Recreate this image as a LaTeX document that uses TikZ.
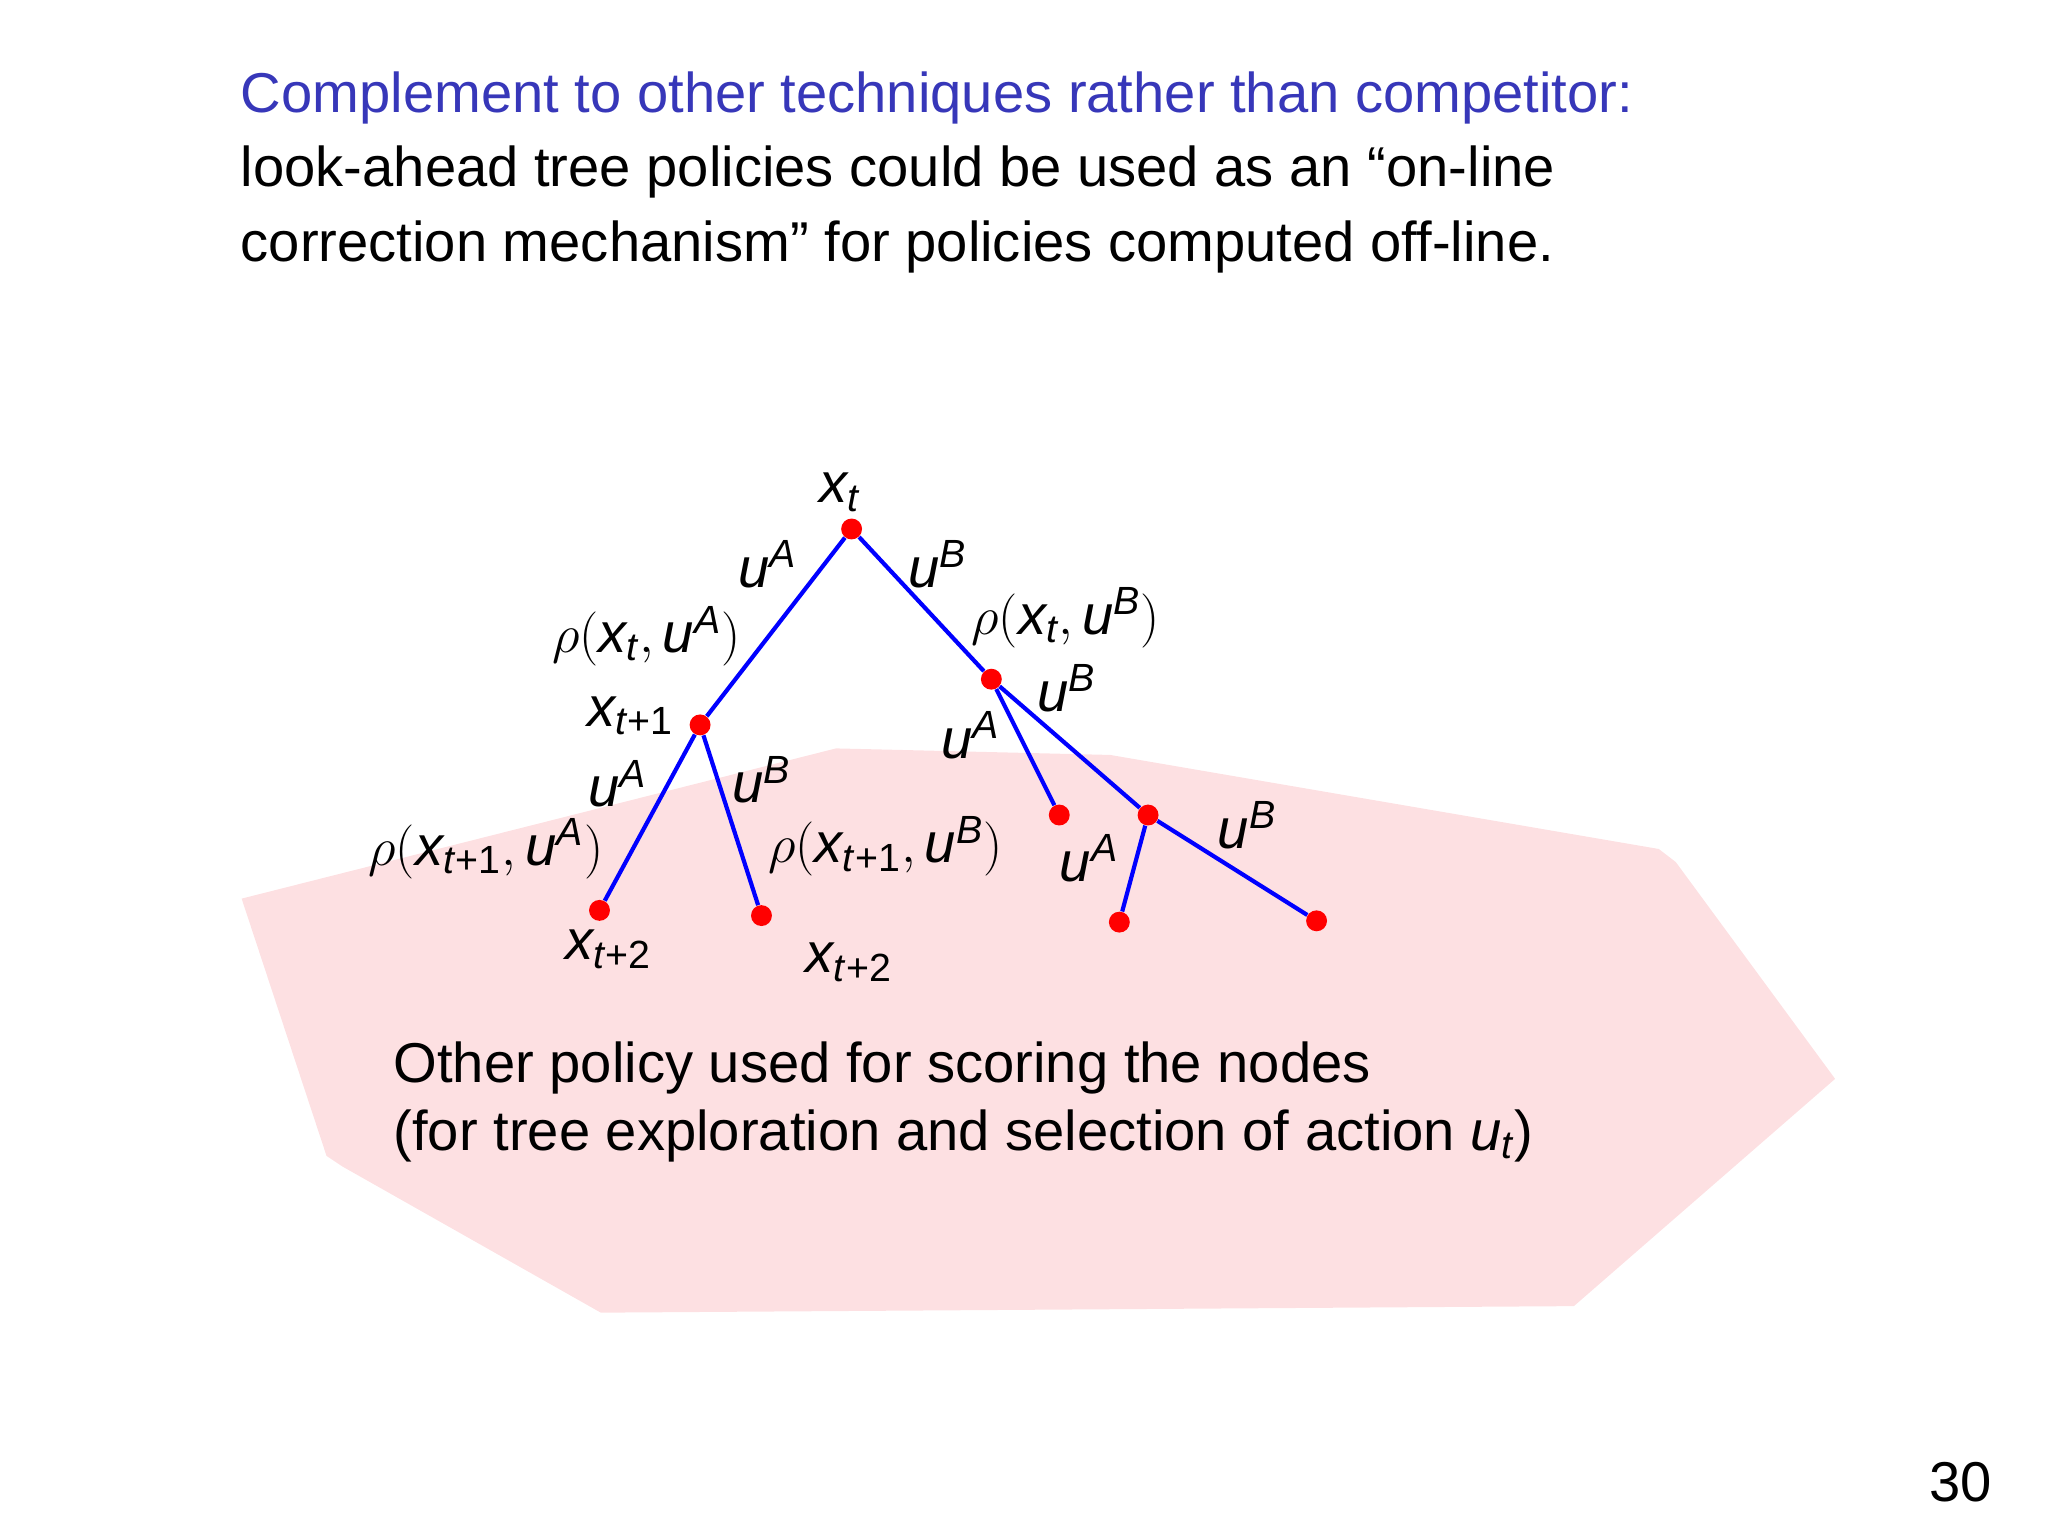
\documentclass[tikz,border=0pt]{standalone}
\usepackage{amsmath}
\usepackage{fontspec}
\setmainfont{Liberation Sans}
\newcommand\V[1]{\textit{#1}}
\definecolor{ttl}{RGB}{55,55,185}
\definecolor{pinkish}{RGB}{253,224,226}
\begin{document}
\begin{tikzpicture}[x=0.5pt,y=-0.5pt,
  dot/.style={circle,fill=red,inner sep=0pt,minimum size=8pt},
  edge/.style={blue,line width=1.6pt},
  lab/.style={font=\fontsize{21.5}{24}\selectfont,inner sep=0pt},
  txt/.style={font=\fontsize{21.5}{28.5}\selectfont,anchor=west,inner sep=0pt}]
\useasboundingbox (0,0) rectangle (1568,1176);
\fill[pinkish] (185,688) -- (250,885) -- (262,893) -- (460,1005) -- (1205,1000) -- (1405,826) -- (1283,660) -- (1270,650) -- (850,578) -- (640,573) -- cycle;
\node[txt,text=ttl] (t1) at (184,75) {Complement to other techniques rather than competitor:};
\node[txt] (t2) at (184,132) {look-ahead tree policies could be used as an “on-line};
\node[txt] (t3) at (184,189) {correction mechanism” for policies computed off-line.};
\node[txt] (b1) at (301,818) {Other policy used for scoring the nodes};
\node[txt] (b2) at (301,870) {(for tree exploration and selection of action $\V{u}_{\V{t}}$)};
\node[txt] (pg) at (1477,1135) {30};
\node[dot] (r) at (652,405) {};
\node[dot] (a) at (536,555) {};
\node[dot] (b) at (759,520) {};
\node[dot] (aa) at (459,697) {};
\node[dot] (ab) at (583,701) {};
\node[dot] (ba) at (811,624) {};
\node[dot] (bb) at (879,624) {};
\node[dot] (bba) at (857,706) {};
\node[dot] (bbb) at (1008,705) {};
\draw[edge] (r)--(a); \draw[edge] (r)--(b);
\draw[edge] (a)--(aa); \draw[edge] (a)--(ab);
\draw[edge] (b)--(ba); \draw[edge] (b)--(bb);
\draw[edge] (bb)--(bba); \draw[edge] (bb)--(bbb);
\node[lab] (l1) at (643,377) {$\V{x}_{\V{t}}$};
\node[lab] (l2) at (588,432) {$\V{u}^{\V{A}}$};
\node[lab] (l3) at (718,432) {$\V{u}^{\V{B}}$};
\node[lab] (l4) at (495,487) {$\rho(\V{x}_{\V{t}},\V{u}^{\V{A}})$};
\node[lab] (l5) at (816,473) {$\rho(\V{x}_{\V{t}},\V{u}^{\V{B}})$};
\node[lab] (l6) at (483,548) {$\V{x}_{\text{\V{t}+1}}$};
\node[lab] (l7) at (817,527) {$\V{u}^{\V{B}}$};
\node[lab] (l8) at (743,563) {$\V{u}^{\V{A}}$};
\node[lab] (l9) at (473,600) {$\V{u}^{\V{A}}$};
\node[lab] (l10) at (583,597) {$\V{u}^{\V{B}}$};
\node[lab] (l11) at (372,650) {$\rho(\V{x}_{\text{\V{t}+1}},\V{u}^{\V{A}})$};
\node[lab] (l12) at (678,648) {$\rho(\V{x}_{\text{\V{t}+1}},\V{u}^{\V{B}})$};
\node[lab] (l13) at (834,657) {$\V{u}^{\V{A}}$};
\node[lab] (l14) at (955,632) {$\V{u}^{\V{B}}$};
\node[lab] (l15) at (466,727) {$\V{x}_{\text{\V{t}+2}}$};
\node[lab] (l16) at (650,737) {$\V{x}_{\text{\V{t}+2}}$};
\end{tikzpicture}
\end{document}
